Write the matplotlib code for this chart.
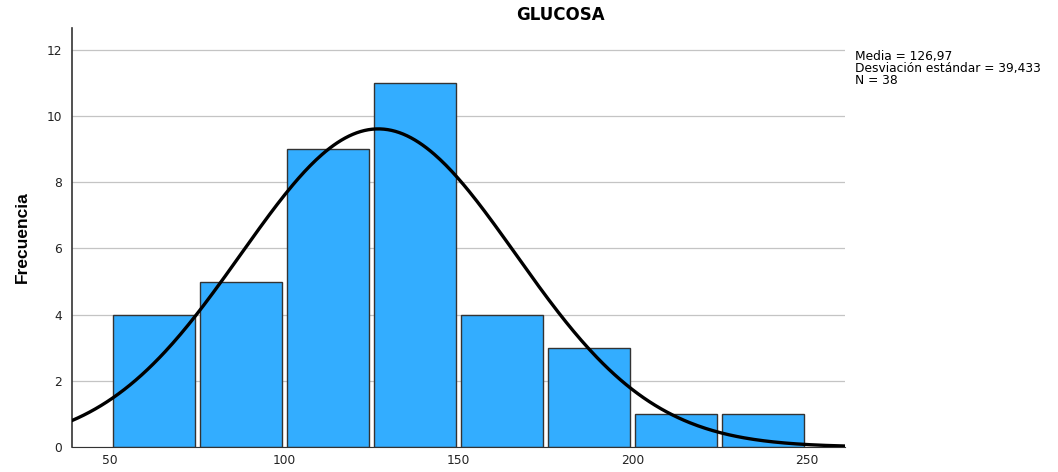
import numpy as np
import matplotlib
matplotlib.use("Agg")
import matplotlib.pyplot as plt

bin_edges = [50, 75, 100, 125, 150, 175, 200, 225, 250]
counts = [4, 5, 9, 11, 4, 3, 1, 1]
media = 126.97
desv = 39.433
n = 38

plt.rcParams['font.family'] = ['DejaVu Sans']

fig = plt.figure(figsize=(10.58, 4.72), dpi=100)
ax = fig.add_axes([0.068, 0.053, 0.7307, 0.8877])

lefts = np.array(bin_edges[:-1])
widths = np.diff(bin_edges)
ax.bar(lefts + widths / 2, counts, width=widths - 1.6, color="#33adff",
       edgecolor="#333333", linewidth=1.0, zorder=2)

# curva normal
xs = np.linspace(39, 261, 400)
bw = widths[0]
ys = n * bw / (desv * np.sqrt(2 * np.pi)) * np.exp(-0.5 * ((xs - media) / desv) ** 2)
ax.plot(xs, ys, color="black", linewidth=2.4, zorder=3)

ax.set_xlim(39, 261)
ax.set_ylim(0, 12.66)
ax.set_yticks(range(0, 13, 2))
ax.set_xticks([50, 100, 150, 200, 250])
ax.yaxis.grid(True, color="#c4c4c4", linewidth=0.9, zorder=0)
ax.set_axisbelow(True)
for s in ["top", "right"]:
    ax.spines[s].set_visible(False)
ax.spines["left"].set_color("#333333")
ax.spines["bottom"].set_color("#333333")
ax.spines["left"].set_linewidth(1.2)
ax.tick_params(length=0, labelsize=8.8, colors="#222222")
ax.tick_params(axis="y", pad=7)
ax.tick_params(axis="x", pad=5)

ax.set_ylabel("Frecuencia", family=['Liberation Sans', 'DejaVu Sans'],
              fontweight="bold", fontsize=12.5, labelpad=12)

fig.text(560 / 1058, 1 - 15 / 472, "GLUCOSA", ha="center", va="center",
         fontsize=12, fontweight="bold")
fig.text(855 / 1058, 1 - 50 / 472,
         "Media = 126,97\nDesviación estándar = 39,433\nN = 38",
         ha="left", va="top", fontsize=8.8, linespacing=0.88)

fig.savefig("out.png", dpi=100)
